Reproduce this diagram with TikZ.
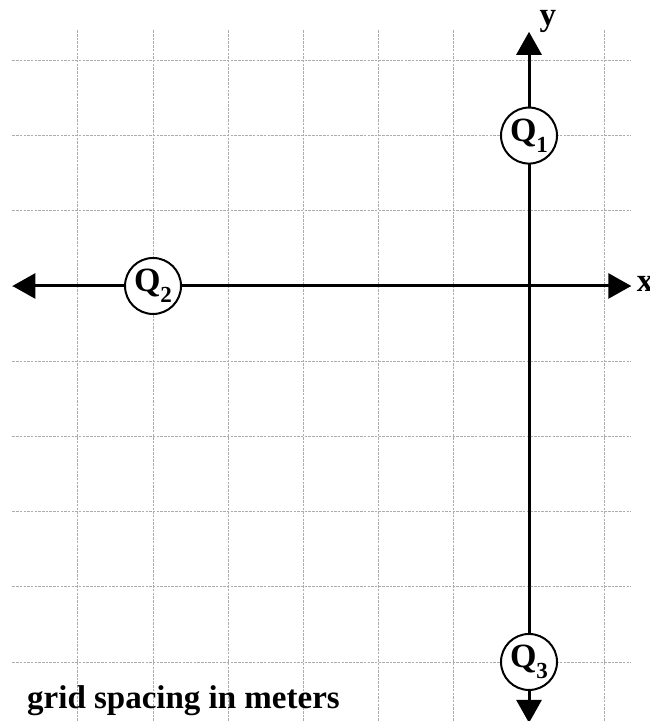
\documentclass[tikz,border=0pt]{standalone}
\usepackage{fontspec}
\setmainfont{Liberation Serif}
\usetikzlibrary{arrows.meta}

\newcommand{\qsub}[1]{\raisebox{-11bp}{\fontsize{23bp}{23bp}\selectfont #1}}

\begin{document}
\begin{tikzpicture}[
  x=75.2bp, y=75.2bp,
  font=\fontsize{33bp}{36bp}\selectfont\bfseries,
  gridline/.style={gray!65, line width=0.9bp, dash pattern=on 2.5bp off 1.2bp},
  axis/.style={{Triangle[length=23bp,width=25bp]}-{Triangle[length=23bp,width=25bp]},
               line width=3bp, black},
  charge/.style={circle, draw, line width=2bp, fill=white, inner sep=0pt,
                 minimum size=56bp, font=\fontsize{34bp}{36bp}\selectfont\bfseries},
  axlabel/.style={anchor=base west, inner sep=0pt},
]
\useasboundingbox (-7.035,-5.785) rectangle (1.596,3.803);

\foreach \gy in {3,2,1,0,-1,-2,-3,-4,-5}
  \draw[gridline] (-6.87,\gy) -- (1.36,\gy);
\foreach \gx in {-6,-5,-4,-3,-2,-1,1}
  \draw[gridline] (\gx,3.40) -- (\gx,-5.80);

\coordinate (xleft) at (-6.87,0);
\coordinate (xright) at (1.36,0);
\coordinate (ytop) at (0,3.38);
\coordinate (ybottom) at (0,-5.81);

\draw[axis] (xleft) -- (xright);
\draw[axis] (ybottom) -- (ytop);

\node[charge] (q1) at (0,2) {Q\qsub{1}};
\node[charge] (q2) at (-5,0) {Q\qsub{2}};
\node[charge] (q3) at (0,-5) {Q\qsub{3}};

\node[axlabel] (ylabel) at (0.14,3.47) {y};
\node[axlabel] (xlabel) at (1.43,-0.08) {x};
\node[axlabel] (caption) at (-6.676,-5.625) {grid spacing in meters};

\end{tikzpicture}
\end{document}
